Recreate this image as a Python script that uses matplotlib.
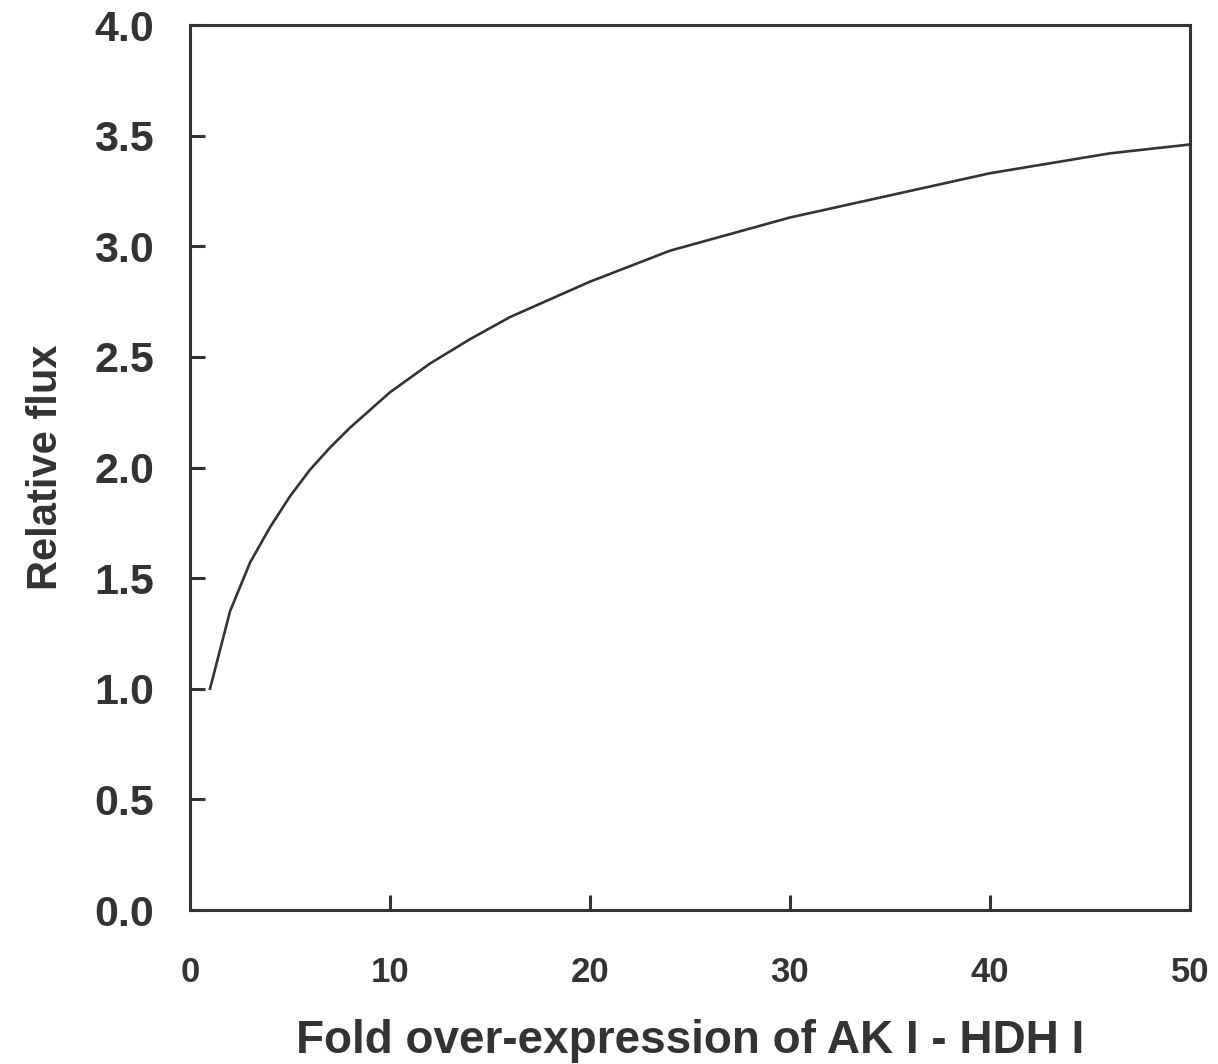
import numpy as np
import matplotlib
matplotlib.use("Agg")
import matplotlib.pyplot as plt

# --- Data ---
fold_expression = [1, 2, 3, 4, 5, 6, 7, 8, 9, 10, 12, 14, 16, 18, 20, 22, 24,
                   26, 28, 30, 32, 34, 36, 38, 40, 42, 44, 46, 48, 50]
relative_flux = [1.00, 1.35, 1.57, 1.73, 1.87, 1.99, 2.09, 2.18, 2.26, 2.34,
                 2.47, 2.58, 2.68, 2.76, 2.84, 2.91, 2.98, 3.03, 3.08, 3.13,
                 3.17, 3.21, 3.25, 3.29, 3.33, 3.36, 3.39, 3.42, 3.44, 3.46]
x_ticks = [0, 10, 20, 30, 40, 50]
y_ticks = [0.0, 0.5, 1.0, 1.5, 2.0, 2.5, 3.0, 3.5, 4.0]

ink = '#333333'
plt.rcParams['font.family'] = ['Liberation Sans', 'DejaVu Sans']

fig = plt.figure(figsize=(12.18, 10.64), dpi=100)
ax = fig.add_axes([0.156, 0.1447, 0.821, 0.8318])

ax.plot(fold_expression, relative_flux, color=ink, linewidth=1.9, clip_on=False)

ax.set_xlim(0, 50)
ax.set_ylim(0, 4)
ax.set_xticks(x_ticks)
ax.set_yticks(y_ticks)
ax.set_xticklabels([str(t) for t in x_ticks], fontsize=25, fontweight='bold', color=ink)
ax.set_yticklabels([f'{t:.1f}' for t in y_ticks], fontsize=31, fontweight='bold', color=ink)

ax.tick_params(axis='both', direction='in', length=11, width=2.2, color=ink)
ax.tick_params(axis='x', pad=33)
ax.tick_params(axis='y', pad=26)

for side in ['left', 'right', 'top', 'bottom']:
    ax.spines[side].set_color(ink)
    ax.spines[side].set_linewidth(2.2)

ax.set_xlabel('Fold over-expression of AK I - HDH I', fontsize=33, fontweight='bold',
              color=ink, labelpad=22)
ax.set_ylabel('Relative flux', fontsize=30, fontweight='bold', color=ink, labelpad=20)

fig.savefig('out.png', dpi=100)
